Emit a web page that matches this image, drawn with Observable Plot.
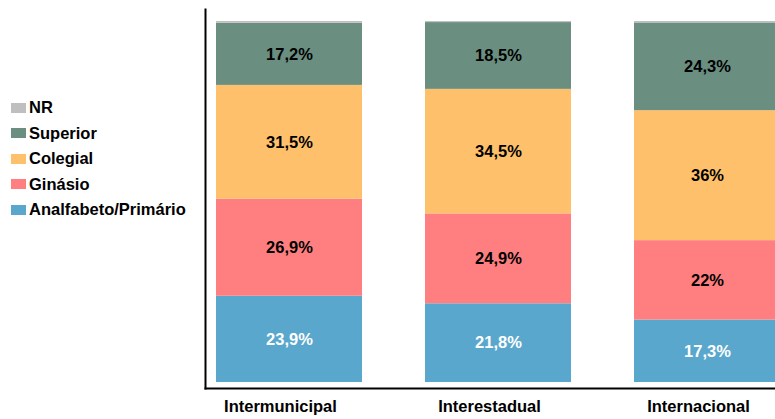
<!DOCTYPE html>
<html lang="pt">
<head>
<meta charset="utf-8">
<script src="https://cdn.jsdelivr.net/npm/d3@7"></script>
<script src="https://cdn.jsdelivr.net/npm/@observablehq/plot@0.6"></script>
<style>
  html, body { margin: 0; padding: 0; background: #fff; overflow: hidden; }
  #wrap { position: relative; width: 775px; height: 419px; font-family: "Liberation Sans", Arial, sans-serif; }
  #legend { position: absolute; left: 11px; top: 95px; }
  .item { display: flex; align-items: center; height: 25.5px; font-weight: bold; font-size: 16.5px; color: #000; }
  .sw { width: 15px; height: 10px; margin-right: 3px; }
</style>
</head>
<body>
<div id="wrap"><div id="legend"></div></div>
<script>
// Trip types (bars) and schooling levels (stack order, bottom to top)
const categories = ["Intermunicipal", "Interestadual", "Internacional"];
const levels = ["Analfabeto/Primário", "Ginásio", "Colegial", "Superior", "NR"];
const colors = ["#5AA7CD", "#FF7F80", "#FFC06B", "#6A8F80", "#BFBFBF"];

// Percentages per level, one value per trip type
const analfabeto = [23.9, 21.8, 17.3];
const ginasio    = [26.9, 24.9, 22];
const colegial   = [31.5, 34.5, 36];
const superior   = [17.2, 18.5, 24.3];
const nr         = [0.5, 0.3, 0.4];

const seriesValues = [analfabeto, ginasio, colegial, superior, nr];
const data = [];
categories.forEach((c, i) => {
  levels.forEach((s, j) => data.push({category: c, level: s, value: seriesValues[j][i]}));
});

const fmt = v => String(v).replace(".", ",") + "%";
const font = "'Liberation Sans', Arial, sans-serif";
const stackOpts = {x: "category", y: "value", z: "level", order: levels};
const BOTTOM = "Analfabeto/Primário";

const chart = Plot.plot({
  width: 775,
  height: 419,
  marginLeft: 205,
  marginRight: 0,
  marginTop: 9,
  marginBottom: 31,
  style: {fontFamily: font, background: "white"},
  x: {domain: categories, range: [205, 791], paddingInner: 0.3, paddingOuter: 0.048},
  y: {domain: [0, 100], range: [382, 21], axis: null},
  color: {domain: levels, range: colors},
  marks: [
    Plot.barY(data, Plot.stackY({...stackOpts, fill: "level"})),
    // white label on the bottom segment, black labels on the others (NR unlabelled)
    Plot.text(data, Plot.stackY({...stackOpts,
      text: d => d.level === BOTTOM ? fmt(d.value) : "",
      fill: "white", fontSize: 16.5, fontWeight: "bold"})),
    Plot.text(data, Plot.stackY({...stackOpts,
      text: d => d.level !== BOTTOM && d.level !== "NR" ? fmt(d.value) : "",
      fill: "black", fontSize: 16.5, fontWeight: "bold"})),
    Plot.frame({anchor: "left", stroke: "#000", strokeWidth: 2}),
    Plot.frame({anchor: "bottom", stroke: "#000", strokeWidth: 2}),
    Plot.axisX({tickSize: 0, tickPadding: 12, dx: -9, fontSize: 16.5, fontWeight: "bold", fill: "#000", label: null})
  ]
});
document.getElementById("wrap").prepend(chart);

// Legend listed top to bottom in reverse stack order
const legend = document.getElementById("legend");
levels.slice().reverse().forEach(l => {
  const item = document.createElement("div");
  item.className = "item";
  const sw = document.createElement("span");
  sw.className = "sw";
  sw.style.background = colors[levels.indexOf(l)];
  item.appendChild(sw);
  item.appendChild(document.createTextNode(l));
  legend.appendChild(item);
});
</script>
</body>
</html>
